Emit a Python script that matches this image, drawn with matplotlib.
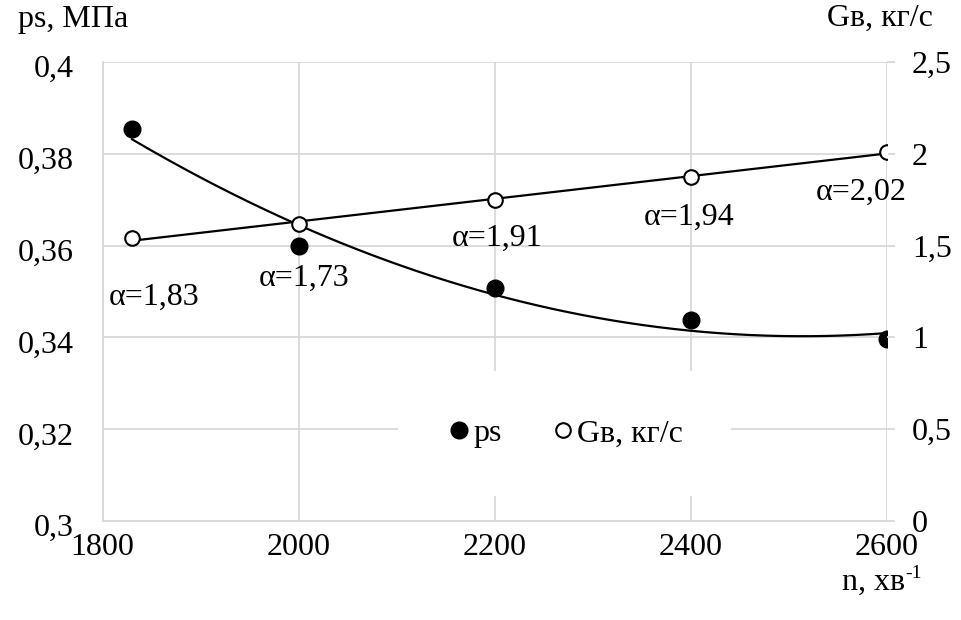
import numpy as np
import matplotlib
matplotlib.use('Agg')
import matplotlib.pyplot as plt
from matplotlib.transforms import ScaledTranslation

plt.rcParams['font.family'] = ['Liberation Serif', 'DejaVu Serif']

# data
n = [1830, 2000, 2200, 2400, 2600]
ps = [0.3854, 0.3599, 0.3507, 0.3437, 0.3396]
gv = [1.543, 1.616, 1.748, 1.875, 2.011]
alpha_labels = ['α=1,83', 'α=1,73', 'α=1,91', 'α=1,94', 'α=2,02']
left_ticks = [0.3, 0.32, 0.34, 0.36, 0.38, 0.4]
left_labels = ['0,3', '0,32', '0,34', '0,36', '0,38', '0,4']
right_ticks = [0, 0.5, 1, 1.5, 2, 2.5]
right_labels = ['0', '0,5', '1', '1,5', '2', '2,5']
x_ticks = [1800, 2000, 2200, 2400, 2600]

# label offsets in pixels from the Gв points
label_offsets = [(22, -60), (5, -54), (2, -38), (-2, -41), (-26, -41)]

grid_c = '#d9d9d9'
fs = 23

fig = plt.figure(figsize=(9.61, 6.2), dpi=100)
ax = fig.add_axes([0.1068, 0.1597, 0.8162, 0.7403])
ax2 = ax.twinx()

# trend lines (polynomial order 2 for ps, linear for Gв)
xs = np.linspace(n[0], n[-1], 200)
c_ps = np.polyfit(n, ps, 2)
c_gv = np.polyfit(n, gv, 1)
ax.plot(xs, np.polyval(c_ps, xs), color='black', lw=1.6, zorder=3)
ax2.plot(xs, np.polyval(c_gv, xs), color='black', lw=1.6, zorder=3)

h1, = ax.plot(n, ps, 'o', color='black', ms=12, zorder=4, label='ps')
h2, = ax2.plot(n, gv, 'o', mfc='white', mec='black', mew=1.5, ms=10.5, zorder=4, label='Gв, кг/с')

for xi, yi, txt, off in zip(n, gv, alpha_labels, label_offsets):
    ax2.annotate(txt, (xi, yi), xytext=off, textcoords='offset pixels',
                 ha='center', va='center', fontsize=fs)

ax.set_xlim(1800, 2600)
ax.set_ylim(0.3, 0.4)
ax2.set_ylim(0, 2.5)
ax.set_xticks(x_ticks)
ax.set_yticks(left_ticks, left_labels)
ax2.set_yticks(right_ticks, right_labels)

ax.grid(True, color=grid_c, lw=1.3, zorder=0)
ax.set_axisbelow(True)
for s in ['top', 'right']:
    ax.spines[s].set_visible(False)
    ax2.spines[s].set_visible(False)
for s in ['left', 'bottom']:
    ax.spines[s].set_color(grid_c)
    ax.spines[s].set_linewidth(1.3)
ax2.spines['left'].set_visible(False)
ax2.spines['bottom'].set_visible(False)

ax.tick_params(axis='y', length=0, pad=21, labelsize=fs)
ax.tick_params(axis='x', length=0, pad=9, labelsize=fs)
ax2.tick_params(axis='y', length=6, color=grid_c, width=1.3, pad=12, labelsize=fs)

# left labels sit a little lower in the reference
shift = ScaledTranslation(0, -3 / 72, fig.dpi_scale_trans)
for lab in ax.get_yticklabels():
    lab.set_transform(lab.get_transform() + shift)

leg = ax2.legend(handles=[h1, h2], loc='center', bbox_to_anchor=(0.589, 0.19),
                 ncol=2, frameon=True, fancybox=False, fontsize=fs,
                 handletextpad=0.05, columnspacing=1.5, handlelength=0.8,
                 borderpad=1.5, borderaxespad=0)
leg.get_frame().set_facecolor('white')
leg.get_frame().set_edgecolor('none')
leg.get_frame().set_alpha(1)

fig.text(18 / 961, 1 - 20 / 620, 'ps, МПа', fontsize=fs, ha='left', va='center')
fig.text(933 / 961, 1 - 18 / 620, 'Gв, кг/с', fontsize=fs, ha='right', va='center')
fig.text(905 / 961, 1 - 582 / 620, 'n, хв', fontsize=fs, ha='right', va='center')
fig.text(905 / 961, 1 - 574 / 620, '-1', fontsize=14, ha='left', va='center')

fig.savefig('out.png', dpi=100)
plt.close(fig)
